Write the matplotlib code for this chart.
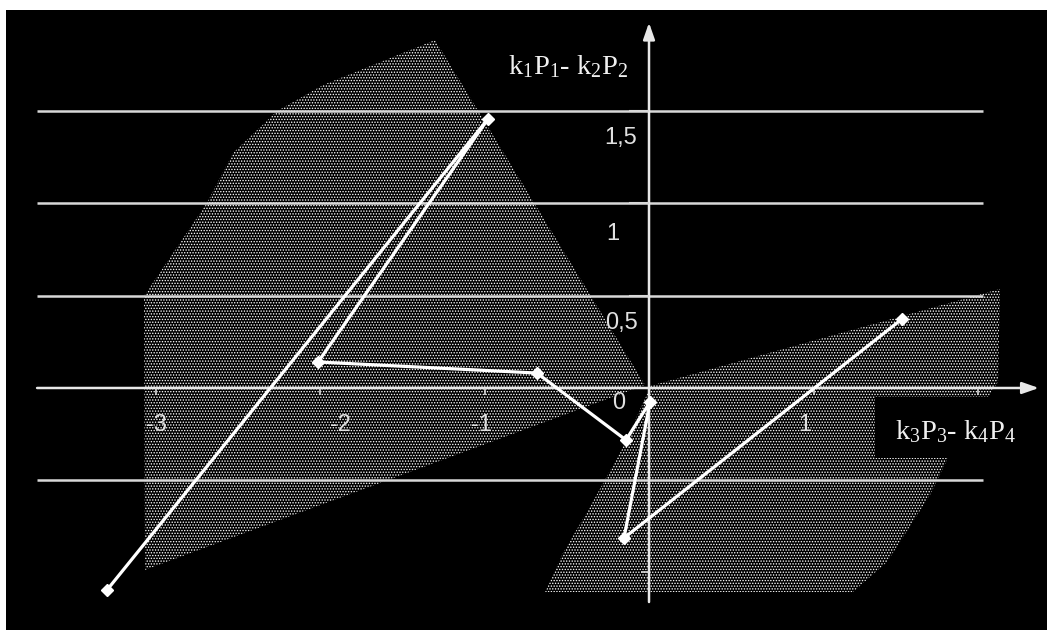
import matplotlib
matplotlib.use("Agg")
import matplotlib.pyplot as plt
from matplotlib.patches import Polygon, Rectangle

# ---- data ----
path_x = [-3.295, -0.979, -2.012, -0.681, -0.140, 0.006, -0.152, 1.538]
path_y = [-1.095, 1.458, 0.141, 0.081, -0.282, -0.076, -0.813, 0.374]

left_zone_x = [-1.301, -1.982, -2.261, -2.529, -2.687, -3.070, -3.064, -0.024]
left_zone_y = [1.886, 1.642, 1.501, 1.274, 1.003, 0.499, -0.986, 0.016]

right_zone_x = [0.006, 2.134, 2.122, 1.818, 1.708, 1.447, 1.240, -0.632, -0.523, -0.359, -0.158, -0.006]
right_zone_y = [0.011, 0.537, 0.033, -0.379, -0.580, -0.943, -1.106, -1.106, -0.894, -0.645, -0.320, -0.022]

grid_levels = [-0.5, 0.5, 1.0, 1.5]
x_ticks = [-3, -2, -1, 1, 2]
y_ticks = [-1, 0.5, 1.0, 1.5]

x_tick_labels = ["-3", "-2", "-1", "1"]
x_label_pos = [-2.997, -1.878, -1.021, 0.948]
y_tick_labels = ["1,5", "1", "0,5"]
y_label_pos = [1.355, 0.837, 0.352]

plt.rcParams["mathtext.fontset"] = "custom"
plt.rcParams["mathtext.rm"] = "Liberation Serif"
plt.rcParams["mathtext.it"] = "Liberation Serif:italic"
plt.rcParams["hatch.linewidth"] = 0.65

W, H = 1047, 630
fig = plt.figure(figsize=(W / 100, H / 100), dpi=100, facecolor="white")
ax = fig.add_axes([6 / W, 0, (W - 6) / W, (H - 10) / H])
ax.set_facecolor("black")
ax.set_xlim(-3.909, 2.4195)
ax.set_ylim(-1.3117, 2.0488)
for sp in ax.spines.values():
    sp.set_visible(False)
ax.set_xticks([])
ax.set_yticks([])

# stippled zones
for zx, zy in [(left_zone_x, left_zone_y), (right_zone_x, right_zone_y)]:
    ax.add_patch(Polygon(list(zip(zx, zy)), closed=True, facecolor="black",
                         edgecolor="white", linewidth=0, hatch="......", zorder=1))

# horizontal lines
ax.hlines(grid_levels, -3.72, 2.03, color="#d8d8d8", linewidth=1.8, zorder=2)

# axes with arrows
ax.annotate("", xy=(2.37, 0), xytext=(-3.72, 0),
            arrowprops=dict(arrowstyle="-|>,head_length=1.0,head_width=0.35",
                            color="#e8e8e8", lw=1.8, shrinkA=0, shrinkB=0), zorder=3)
ax.annotate("", xy=(0, 1.98), xytext=(0, -1.16),
            arrowprops=dict(arrowstyle="-|>,head_length=1.0,head_width=0.35",
                            color="#e8e8e8", lw=1.8, shrinkA=0, shrinkB=0), zorder=3)

ax.vlines(x_ticks, -0.04, 0, color="#d8d8d8", linewidth=1.2, zorder=3)
ax.hlines(y_ticks[1:], -0.12, 0, color="#d8d8d8", linewidth=1.5, zorder=3)
ax.hlines(y_ticks[:1], -0.05, 0, color="#d8d8d8", linewidth=1.2, zorder=3)

# black box behind the x label
ax.add_patch(Rectangle((1.374, -0.379), 1.1, 0.33, facecolor="black",
                       edgecolor="none", zorder=2.5))

# data path
ax.plot(path_x, path_y, color="white", linewidth=2.3, marker="D",
        markersize=6, markerfacecolor="white", markeredgecolor="white", zorder=5)

tick_font = dict(color="#e0e0e0", fontsize=17, family="Liberation Sans",
                 ha="center", va="center", zorder=6)
for lab, xp in zip(x_tick_labels, x_label_pos):
    ax.text(xp, -0.2, lab, **tick_font)
for lab, yp in zip(y_tick_labels, y_label_pos):
    ax.text(-0.17 if lab != "1" else -0.22, yp, lab, **tick_font)
ax.text(-0.182, -0.081, "0", **tick_font)

lab_font = dict(color="#f0f0f0", fontsize=20.5, family="Liberation Serif",
                ha="center", va="center", zorder=6)
ax.text(-0.492, 1.74, r"$\mathrm{k_1P_1}$- $\mathrm{k_2P_2}$", **lab_font)
ax.text(1.866, -0.238, r"$\mathrm{k_3P_3}$- $\mathrm{k_4P_4}$", **lab_font)

fig.savefig("out.png", dpi=100, facecolor="white")
